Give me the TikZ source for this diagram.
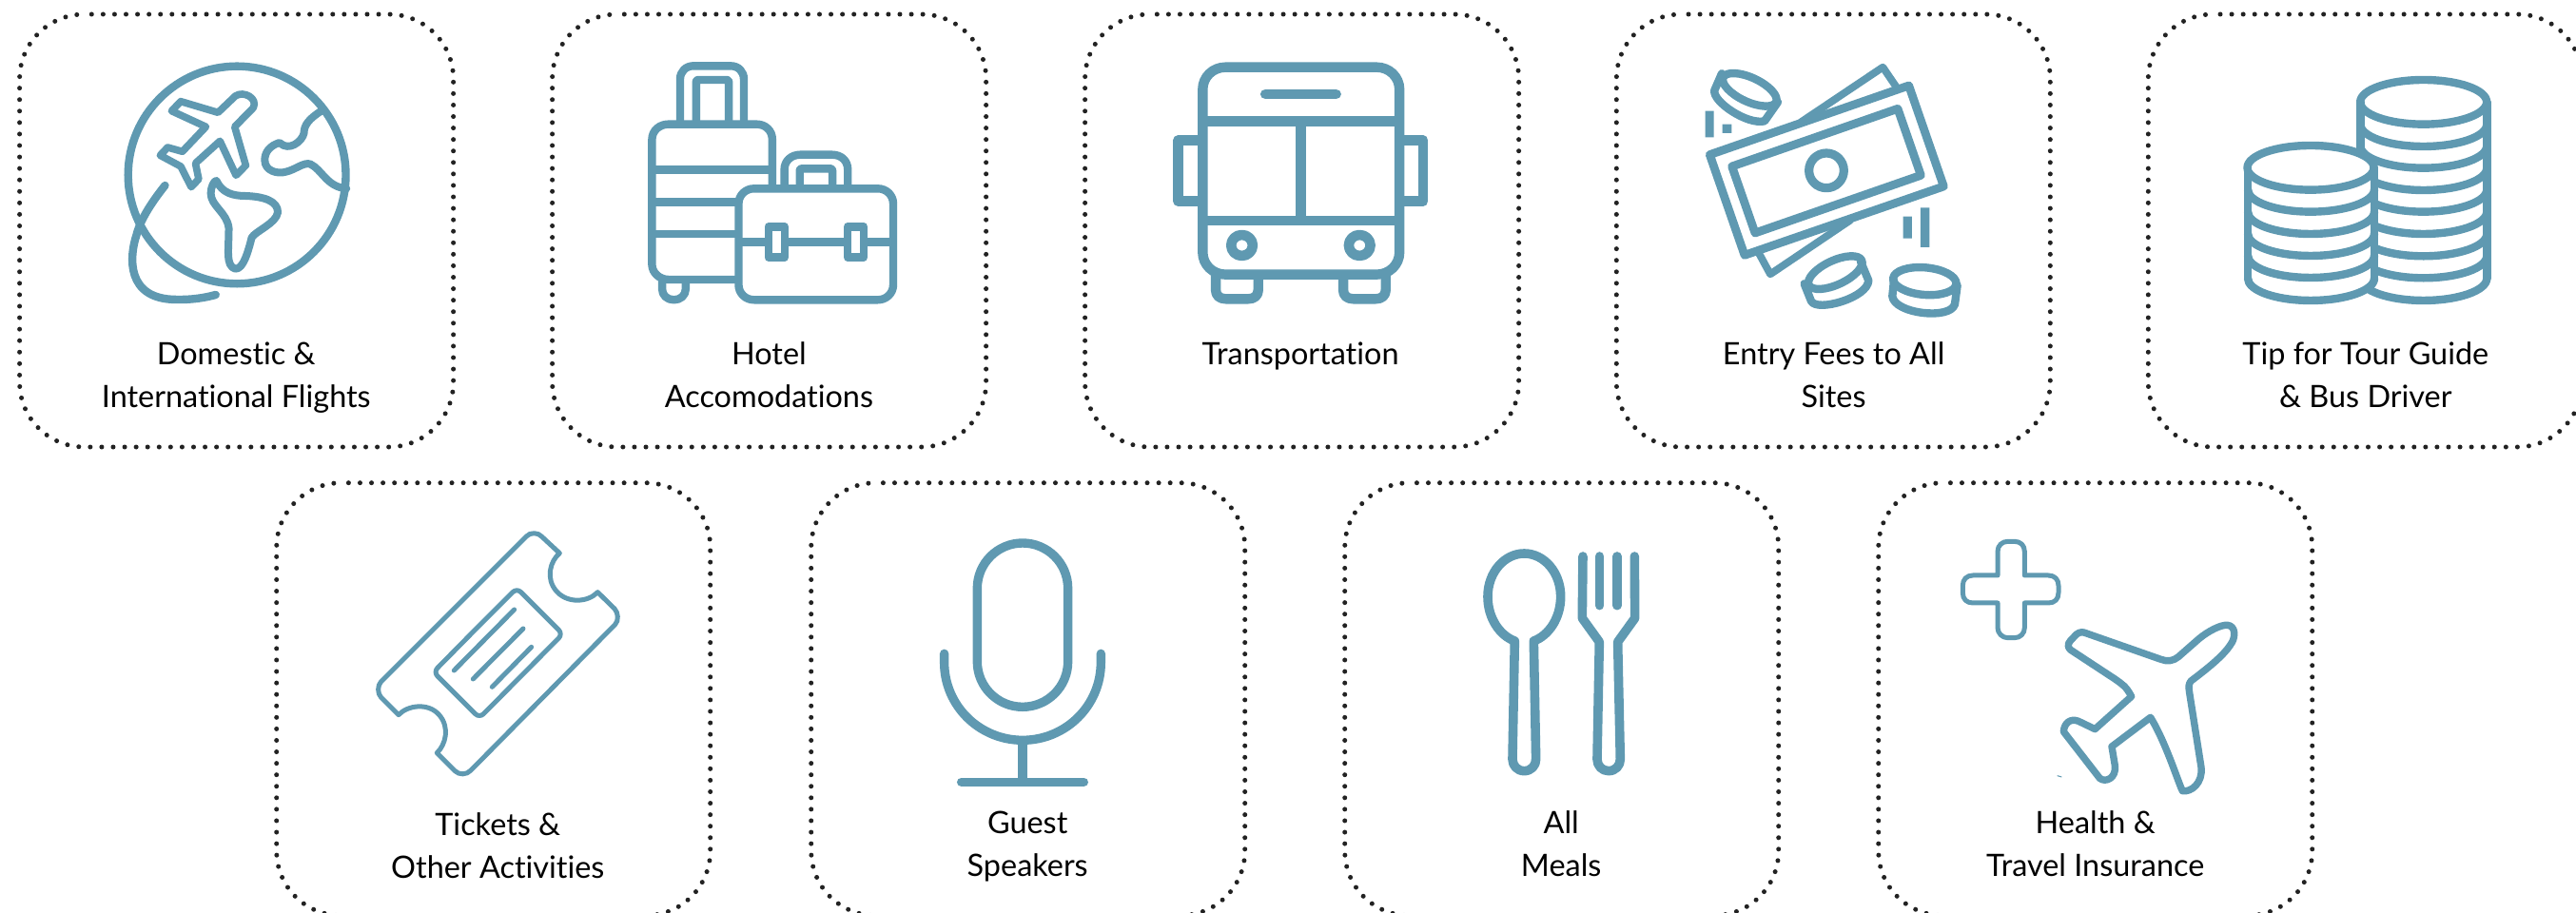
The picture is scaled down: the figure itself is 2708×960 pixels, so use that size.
\documentclass[tikz,border=0pt]{standalone}
\usepackage{fontspec}
\setmainfont{Lato}[Ligatures=NoCommon]
\definecolor{iconblue}{HTML}{5F99B1}
\definecolor{dotcol}{HTML}{222222}
\tikzset{
  ico/.style={draw=iconblue,line width=8.4pt,line join=round,line cap=round},
  cardline/.style={draw=dotcol,line width=5pt,line cap=round,dash pattern=on 0pt off 12.07pt},
  lbl/.style={font=\fontsize{32.4}{45}\selectfont,align=center,anchor=base,inner sep=0pt,text=black},
  cropa/.style={xscale=0.3436,yscale=0.3333},
  cropb/.style={scale=0.3333}
}
\newcommand{\cardbox}[2]{\begin{scope}[shift={(#1,#2)}]
\draw[cardline] (75.7,0) -- (388,0) .. controls (425.6,0) and (456,30.4) .. (456,68) -- (456,387) .. controls (456,424.6) and (425.6,455) .. (388,455) -- (68,455) .. controls (30.4,455) and (0,424.6) .. (0,387) -- (0,68) .. controls (0,30.4) and (30.4,0) .. (68,0);
\end{scope}}
\begin{document}
\begin{tikzpicture}[x=1pt,y=-1pt]
\useasboundingbox (0,0) rectangle (2708,960);
\clip (0,0) rectangle (2708,960);
\fill[white] (0,0) rectangle (2708,960);
\cardbox{20.6}{15}\cardbox{580.6}{15}\cardbox{1140.6}{15}\cardbox{1699.3}{15}\cardbox{2258.3}{15}
\cardbox{290.7}{507.7}\cardbox{852.7}{507.7}\cardbox{1413.7}{507.7}\cardbox{1974.7}{507.7}

\node[lbl] (l1) at (248.3,428) {Domestic \&\\International Flights};
\node[lbl] (l2) at (808.4,428) {Hotel\\Accomodations};
\node[lbl] (l3) at (1367,383) {Transportation};
\node[lbl] (l4) at (1927.6,428) {Entry Fees to All\\Sites};
\node[lbl] (l5) at (2486.8,428) {Tip for Tour Guide\\\& Bus Driver};
\node[lbl] (l6) at (523.3,923.5) {Tickets \&\\Other Activities};
\node[lbl] (l7) at (1080.2,921.5) {Guest\\Speakers};
\node[lbl] (l8) at (1641.2,921.5) {All\\Meals};
\node[lbl] (l9) at (2202.7,921.5) {Health \&\\Travel Insurance};

% globe
\begin{scope}[shift={(0,0)},cropa]
\draw[ico] (725,552) ellipse [x radius=333,y radius=343];
\draw[ico] (505,585) .. controls (470,630) and (430,690) .. (418,740) .. controls (395,810) and (385,945) .. (540,945) .. controls (585,946) and (625,940) .. (660,930);
\draw[ico,line width=7.6pt] (553,320) -- (667,355) -- (720,303) .. controls (745,285) and (790,310) .. (775,340) -- (718,400) -- (752,522) -- (722,553) -- (673,445) -- (598,515) -- (608,565) -- (585,590) -- (553,525) -- (490,490) -- (513,465) -- (558,478) -- (630,400) -- (525,350) -- cycle;
\draw[ico,line width=8pt] (983,350) .. controls (945,375) and (930,395) .. (930,420) .. controls (925,445) and (885,480) .. (855,450) .. controls (825,460) and (810,480) .. (810,505) .. controls (810,540) and (850,550) .. (875,542) .. controls (905,535) and (930,510) .. (950,518) .. controls (985,535) and (1000,590) .. (1060,595);
\draw[ico,line width=8pt] (662,570) .. controls (680,610) and (715,618) .. (750,618) .. controls (810,620) and (850,635) .. (850,670) .. controls (845,705) and (780,730) .. (770,750) .. controls (760,790) and (745,850) .. (720,848) .. controls (690,840) and (700,790) .. (700,720) .. controls (695,670) and (645,650) .. (645,610) .. controls (645,590) and (655,570) .. (662,570) -- cycle;
\end{scope}

% luggage
\begin{scope}[shift={(560,0)},cropa]
\draw[ico,line cap=butt] (733,592) -- (733,440) .. controls (733,412) and (712,392) .. (685,392) -- (415,392) .. controls (388,392) and (365,412) .. (365,440) -- (365,835) .. controls (365,860) and (388,882) .. (415,882) -- (630,882);
\draw[ico,line cap=butt] (365,536) -- (733,536) (365,637) -- (630,637) (365,738) -- (630,738);
\draw[ico,line cap=butt] (396,882) -- (396,912) .. controls (396,932) and (412,946) .. (432,946) .. controls (452,946) and (468,932) .. (468,912) -- (468,885);
\draw[ico,line cap=butt] (451,392) -- (451,250) .. controls (451,226) and (468,208) .. (492,208) -- (605,208) .. controls (630,208) and (646,226) .. (646,250) -- (646,392);
\draw[ico,line cap=butt,rounded corners=2pt] (500,392) -- (500,252) -- (600,252) -- (600,392);
\draw[ico] (677,595) -- (1056,595) .. controls (1082,595) and (1103,616) .. (1103,642) -- (1103,899) .. controls (1103,925) and (1082,946) .. (1056,946) -- (677,946) .. controls (651,946) and (630,925) .. (630,899) -- (630,642) .. controls (630,616) and (651,595) .. (677,595) -- cycle;
\draw[ico,line cap=butt] (630,763) -- (721,763) (771,763) -- (963,763) (1013,763) -- (1103,763);
\draw[ico] (721,715) rectangle (771,812) (963,715) rectangle (1013,812);
\draw[ico,line cap=butt] (770,595) -- (770,535) .. controls (770,508) and (790,488) .. (820,488) -- (915,488) .. controls (945,488) and (964,508) .. (964,535) -- (964,595);
\draw[ico,line cap=butt,rounded corners=2pt] (817,595) -- (817,532) -- (917,532) -- (917,595);
\end{scope}

% bus
\begin{scope}[shift={(1120,0)},cropa]
\draw[ico,line width=10.4pt] (490,212) -- (952,212) .. controls (991,212) and (1022,243) .. (1022,282) -- (1022,796) .. controls (1022,835) and (991,866) .. (952,866) -- (490,866) .. controls (451,866) and (420,835) .. (420,796) -- (420,282) .. controls (420,243) and (451,212) .. (490,212) -- cycle;
\draw[ico,line width=10.8pt] (612,297) -- (828,297);
\draw[ico,line width=10.4pt,line cap=butt] (420,382) -- (1022,382) (420,696) -- (1022,696) (720,382) -- (720,696);
\draw[ico,line width=10.4pt,line cap=butt] (405,443) -- (345,443) -- (345,635) -- (405,635) (1037,443) -- (1095,443) -- (1095,635) -- (1037,635);
\draw[ico,line width=10.6pt] (540,774) ellipse [x radius=33,y radius=33] (900,774) ellipse [x radius=33,y radius=33];
\draw[ico,line width=10.4pt,line cap=butt] (460,866) -- (460,915) .. controls (460,932) and (472,943) .. (490,943) -- (560,943) .. controls (578,943) and (590,932) .. (590,915) -- (590,866);
\draw[ico,line width=10.4pt,line cap=butt] (850,866) -- (850,915) .. controls (850,932) and (862,943) .. (880,943) -- (950,943) .. controls (968,943) and (980,932) .. (980,915) -- (980,866);
\end{scope}

% money
\begin{scope}[shift={(1680,0)},cropb]
\draw[ico,line width=7.8pt] (640,385) -- (898,212) -- (943,278);
\draw[ico,line width=7.8pt] (505,795) -- (543,865) -- (795,695);
\draw[ico,line width=8.8pt] (352,488) -- (980,270) -- (1090,588) -- (462,805) -- cycle;
\draw[ico,line width=8.8pt] (422,525) -- (945,343) -- (1018,553) -- (495,735) -- cycle;
\draw[ico,line width=9.2pt] (720,538) circle [radius=55];
\fill[iconblue] (338,350) rectangle (365,433) (392,392) rectangle (421,420) (962,683) rectangle (990,752) (1017,655) rectangle (1045,780);
\draw[ico,rotate around={-25:(478,283)}] (478,283) ellipse [x radius=92,y radius=38];
\draw[ico] (390,232) -- (367,285) .. controls (360,320) and (470,395) .. (525,382) -- (567,322);
\draw[ico,rotate around={25:(748,860)}] (748,860) ellipse [x radius=92,y radius=38];
\draw[ico] (650,895) -- (672,950) .. controls (690,985) and (850,940) .. (853,885) -- (828,825);
\draw[ico,rotate around={-5:(1030,887)}] (1030,887) ellipse [x radius=100,y radius=43];
\draw[ico] (933,885) -- (928,935) .. controls (935,990) and (1110,1010) .. (1125,960) -- (1133,900);
\end{scope}

% coins
\begin{scope}[shift={(2240,0)},cropb]
\draw[ico] (923,322) ellipse [x radius=199.5,y radius=70];
\draw[ico] (724,322) -- (724,470) (1123,322) -- (1123,878);
\foreach \b in {462,530,600,668,738,808,877,948}{
  \draw[ico] (724,\b-70) .. controls +(0,38.6) and +(-110,0) .. (923,\b) .. controls +(110,0) and +(0,38.6) .. (1123,\b-70);
}
\fill[white] (567,529) ellipse [x radius=199.5,y radius=70];
\fill[white] (369,529) -- (768,529) -- (768,878) .. controls (768,915) and (677,948) .. (567,948) .. controls (457,948) and (369,915) .. (369,878) -- cycle;
\draw[ico] (567,529) ellipse [x radius=199.5,y radius=70];
\draw[ico] (369,529) -- (369,878) (768,529) -- (768,878);
\foreach \b in {668,738,807,876,948}{
  \draw[ico] (369,\b-70) .. controls +(0,38.6) and +(-110,0) .. (567,\b) .. controls +(110,0) and +(0,38.6) .. (768,\b-70);
}
\end{scope}

% ticket
\begin{scope}[shift={(280,490)},cropb]
\draw[ico,line width=5pt] (925,275) -- (868,222) .. controls (858,210) and (832,208) .. (820,222) -- (362,680) .. controls (350,692) and (350,718) .. (362,730) -- (417,785) .. controls (445,755) and (510,745) .. (545,785) .. controls (580,825) and (565,880) .. (538,905) -- (595,962) .. controls (607,975) and (632,975) .. (645,960) -- (1100,500) .. controls (1112,488) and (1110,462) .. (1098,450) -- (1045,398) .. controls (1015,430) and (950,435) .. (915,395) .. controls (880,355) and (895,300) .. (925,275) -- cycle;
\draw[ico,line width=5pt,rounded corners=6pt] (658,517) -- (790,385) -- (935,530) -- (672,795) -- (527,650) -- cycle;
\draw[ico,line width=5pt] (592,645) -- (782,453) (652,672) -- (810,513) (712,697) -- (836,571);
\end{scope}

% microphone
\begin{scope}[shift={(840,490)},cropb]
\draw[ico,line width=9.4pt] (705,243) .. controls (784,243) and (848,307) .. (848,386) -- (848,617) .. controls (848,696) and (784,760) .. (705,760) .. controls (626,760) and (562,696) .. (562,617) -- (562,386) .. controls (562,307) and (626,243) .. (705,243) -- cycle;
\draw[ico,line width=9.4pt] (458,592) -- (458,620) .. controls (458,756) and (569,865) .. (705,865) .. controls (841,865) and (952,756) .. (952,620) -- (952,592);
\draw[ico,line width=9.4pt,line cap=butt] (705,865) -- (705,997);
\draw[ico,line width=9.4pt] (512,997) -- (898,997);
\end{scope}

% cutlery
\begin{scope}[shift={(1400,490)},cropb]
\draw[ico,line width=9.6pt] (577,552) .. controls (530,535) and (492,480) .. (492,412) .. controls (492,335) and (545,276) .. (607,276) .. controls (669,276) and (722,335) .. (722,412) .. controls (722,480) and (684,535) .. (637,552) -- (644,925) .. controls (644,945) and (629,962) .. (607,962) .. controls (585,962) and (570,945) .. (570,925) -- cycle;
\draw[ico,line width=9.6pt] (792,285) -- (790,480) -- (844,555) -- (837,925) .. controls (837,945) and (852,962) .. (873,962) .. controls (895,962) and (910,945) .. (910,925) -- (902,555) -- (956,480) -- (955,285);
\draw[ico,line width=9.6pt] (845,285) -- (845,440) (900,285) -- (900,440);
\end{scope}

% insurance
\begin{scope}[shift={(1960,490)},cropb]
\draw[ico,line width=5pt] (420,345) -- (420,270) .. controls (420,250) and (435,238) .. (452,238) -- (473,238) .. controls (492,238) and (505,250) .. (505,270) -- (505,345) -- (580,345) .. controls (600,345) and (612,358) .. (612,377) -- (612,400) .. controls (612,420) and (600,432) .. (580,432) -- (505,432) -- (505,510) .. controls (505,528) and (492,542) .. (473,542) -- (452,542) .. controls (435,542) and (420,528) .. (420,510) -- (420,432) -- (342,432) .. controls (322,432) and (310,420) .. (310,400) -- (310,377) .. controls (310,358) and (322,345) .. (342,345) -- cycle;
\draw[ico,line width=7.4pt] (692,525) -- (935,610) .. controls (955,618) and (975,615) .. (990,602) -- (1055,545) .. controls (1085,520) and (1125,500) .. (1145,502) .. controls (1170,505) and (1170,535) .. (1160,555) .. controls (1140,590) and (1100,625) .. (1030,678) .. controls (1022,688) and (1022,695) .. (1025,715) -- (1062,950) .. controls (1068,1000) and (1030,1030) .. (1003,1025) .. controls (990,1000) and (950,870) .. (902,793) -- (780,885) -- (790,945) .. controls (795,985) and (760,1000) .. (742,985) -- (628,838) .. controls (630,810) and (650,795) .. (675,805) -- (727,830) -- (842,727) .. controls (825,695) and (815,690) .. (790,672) -- (650,580) .. controls (635,565) and (645,555) .. (660,540) .. controls (672,525) and (682,523) .. (692,525) -- cycle;
\draw[iconblue,line width=1pt] (608,977) -- (622,981);
\end{scope}
\end{tikzpicture}
\end{document}
